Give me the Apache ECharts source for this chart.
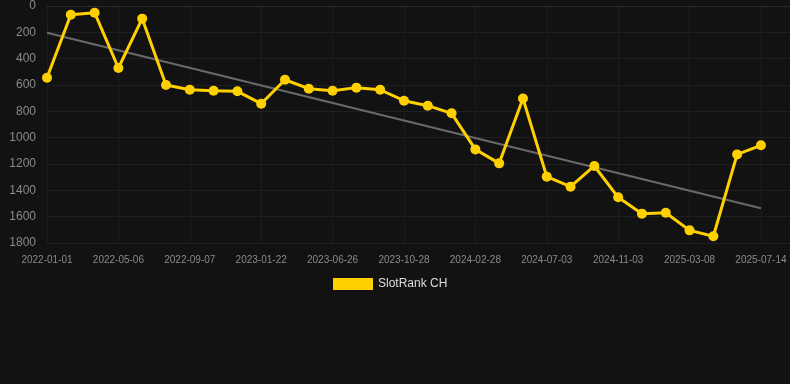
<!DOCTYPE html>
<html><head><meta charset="utf-8">
<script src="https://cdn.jsdelivr.net/npm/echarts@6/dist/echarts.min.js"></script>
<style>html,body{margin:0;padding:0;background:#121212}#c{width:790px;height:384px}</style>
</head><body><div id="c"></div>
<script>
const categories = ['2022-01-01','2022-02-11','2022-03-24','2022-05-06','2022-06-17','2022-07-28','2022-09-07','2022-10-22','2022-12-07','2023-01-22','2023-03-15','2023-05-05','2023-06-26','2023-08-06','2023-09-17','2023-10-28','2023-12-08','2024-01-18','2024-02-28','2024-04-10','2024-05-22','2024-07-03','2024-08-13','2024-09-23','2024-11-03','2024-12-14','2025-01-25','2025-03-08','2025-04-20','2025-06-01','2025-07-14'];
const rankValues = [545,66,51,471,96,600,636,643,648,742,560,628,643,620,636,719,757,815,1089,1195,703,1296,1372,1215,1453,1577,1570,1704,1749,1127,1058];
const trendStart = 203;
const trendEnd = 1536;
const seriesName = 'SlotRank CH';

const lastIdx = categories.length - 1;
const chart = echarts.init(document.getElementById('c'), null, {renderer:'canvas'});
chart.setOption({
  animation:false,
  backgroundColor:'#121212',
  grid:{left:47,right:0,top:6,bottom:141,containLabel:false},
  legend:{
    data:[{name:seriesName,icon:'rect'}],
    top:273, left:328,
    itemWidth:40, itemHeight:12, itemGap:10,
    textStyle:{color:'#dddddd',fontSize:12,fontFamily:'Arial, Liberation Sans, sans-serif'}
  },
  xAxis:{
    type:'value', min:0, max:lastIdx * 1.0407, interval:3,
    axisLine:{show:true,lineStyle:{color:'#2a2a2a'}},
    axisTick:{show:false},
    axisLabel:{color:'#8a8a8a',fontSize:10,margin:12,fontFamily:'Arial, Liberation Sans, sans-serif',
      showMaxLabel:false,
      formatter:function(v){ return (Number.isInteger(v) && v % 3 === 0 && v <= lastIdx) ? categories[v] : ''; }},
    splitLine:{show:true,showMaxLine:false,lineStyle:{color:'#1d1d1d'}}
  },
  yAxis:{
    type:'value', inverse:true, min:0, max:1800, interval:200,
    axisLine:{show:false}, axisTick:{show:false},
    axisLabel:{color:'#8a8a8a',fontSize:12,margin:11,fontFamily:'Arial, Liberation Sans, sans-serif',formatter:function(v){return String(v);}},
    splitLine:{show:true,lineStyle:{color:'#202020'}}
  },
  series:[
    {
      name:'trend', type:'line', data:[[0,trendStart],[lastIdx,trendEnd]],
      symbol:'none', lineStyle:{color:'#6a6a6a',width:2}, z:1, silent:true
    },
    {
      name:seriesName, type:'line', data:rankValues.map(function(v,i){return [i,v];}),
      symbol:'circle', symbolSize:10,
      itemStyle:{color:'#FFD000'},
      lineStyle:{color:'#FFD000',width:3}, z:3
    }
  ]
});
</script></body></html>
